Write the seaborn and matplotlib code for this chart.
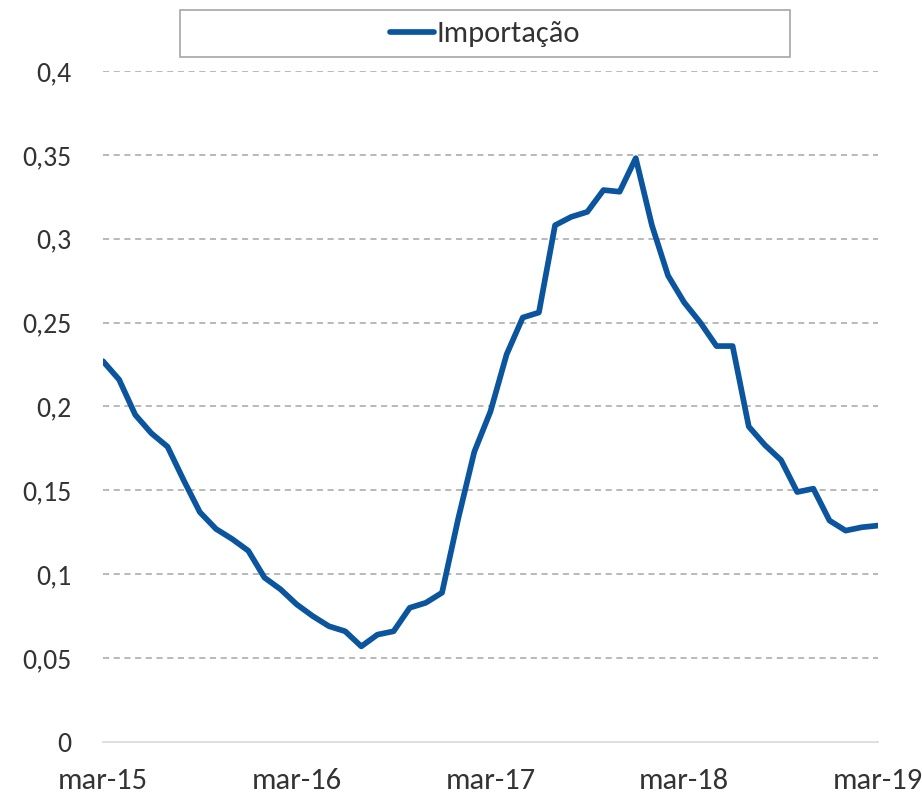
import numpy as np
import pandas as pd
import matplotlib
matplotlib.use("Agg")
import matplotlib.pyplot as plt
import seaborn as sns
from matplotlib.patches import Rectangle

# monthly values, mar-15 .. mar-19
months = list(range(49))
importacao = [0.227, 0.216, 0.195, 0.184, 0.176, 0.156, 0.137, 0.127, 0.121, 0.114,
              0.098, 0.091, 0.082, 0.075, 0.069, 0.066, 0.057, 0.064, 0.066, 0.080,
              0.083, 0.089, 0.133, 0.173, 0.197, 0.231, 0.253, 0.256, 0.308, 0.313,
              0.316, 0.329, 0.328, 0.348, 0.308, 0.278, 0.262, 0.250, 0.236, 0.236,
              0.188, 0.177, 0.168, 0.149, 0.151, 0.132, 0.126, 0.128, 0.129]
x_ticks = [0, 12, 24, 36, 48]
x_labels = ['mar-15', 'mar-16', 'mar-17', 'mar-18', 'mar-19']
y_ticks = [0, 0.05, 0.1, 0.15, 0.2, 0.25, 0.3, 0.35, 0.4]
y_labels = ['0', '0,05', '0,1', '0,15', '0,2', '0,25', '0,3', '0,35', '0,4']

sns.set_style('white')
plt.rcParams['font.family'] = ['Carlito', 'Lato', 'DejaVu Sans']

df = pd.DataFrame({'mes': months, 'valor': importacao})

fig = plt.figure(figsize=(9.22, 7.97), dpi=100)
ax = fig.add_axes([0.1117, 0.069, 0.8405, 0.842])

ax.set_ylim(0, 0.4)
ax.set_xlim(0, 48)
for v in y_ticks[1:]:
    ax.axhline(v, color='#A6A6A6', lw=1.1, ls=(0, (4, 3)), zorder=1)

sns.lineplot(data=df, x='mes', y='valor', ax=ax, color='#0B559F', lw=4.1,
             label='Importação', zorder=3, solid_joinstyle='round',
             solid_capstyle='round')

ax.set_xticks(x_ticks)
ax.set_xticklabels(x_labels)
ax.set_yticks(y_ticks)
ax.set_yticklabels(y_labels)
ax.tick_params(axis='both', length=0, labelsize=20, colors='#333333')
ax.tick_params(axis='x', pad=19, labelsize=22)
ax.tick_params(axis='y', pad=23)
ax.set_xlabel('')
ax.set_ylabel('')
for s in ['top', 'right', 'left']:
    ax.spines[s].set_visible(False)
ax.spines['bottom'].set_color('#D9D9D9')
ax.spines['bottom'].set_linewidth(1.2)

leg = ax.legend(loc='center', bbox_to_anchor=(485 / 922, 1 - 34 / 797),
                bbox_transform=fig.transFigure, frameon=False, fontsize=22,
                handlelength=1.45, handletextpad=0.1)
for t in leg.get_texts():
    t.set_color('#333333')
fig.patches.append(Rectangle((180 / 922, 1 - 57 / 797), 610 / 922, 47 / 797,
                             transform=fig.transFigure, fill=False,
                             edgecolor='#A6A6A6', lw=1.2))

fig.savefig('out.png', dpi=100)
